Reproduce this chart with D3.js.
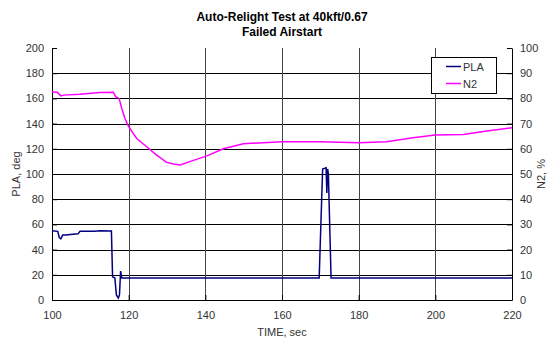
<!DOCTYPE html>
<html>
<head>
<meta charset="utf-8">
<script src="https://cdn.jsdelivr.net/npm/d3@7"></script>
<style>
  body { margin: 0; background: #fff; }
  svg text { font-family: "Liberation Sans", Arial, sans-serif; }
</style>
</head>
<body>
<div id="chart"></div>
<script>
'use strict'

// Values.
let xTicks = [100, 120, 140, 160, 180, 200, 220];
let plaTicks = [0, 20, 40, 60, 80, 100, 120, 140, 160, 180, 200];
let n2Ticks = [0, 10, 20, 30, 40, 50, 60, 70, 80, 90, 100];

let plaTime = [100, 101.5, 101.9, 102.3, 102.8, 103.5, 106.8, 107.3, 111, 112.5, 115.5,
    115.8, 116.4, 116.8, 117.3, 117.6, 117.9, 118.2, 130, 150, 169.7,
    170.6, 171.5, 171.7, 171.9, 172.1, 172.8, 190, 220];
let plaValue = [55, 54.5, 49.5, 48.5, 51.5, 51.5, 52.5, 54.5, 54.5, 55, 54.8,
    18.5, 17.5, 4, 1.5, 4, 23, 17.5, 17.5, 17.5, 17.5,
    104, 105, 85, 104, 100, 17.5, 17.5, 17.5];

let n2Time = [100, 101.4, 102.3, 103, 107.3, 112.5, 116, 116.6, 117.5, 118.2, 119,
    120, 122.1, 124.7, 127.3, 129.9, 131.7, 133.4, 136.9, 140.4, 144.7,
    149.9, 160, 170, 180, 187.2, 194.2, 200, 207.3, 213.4, 220];
let n2Value = [82.5, 82.4, 81, 81.3, 81.6, 82.3, 82.4, 80.7, 80, 76, 72.1,
    68.8, 64.1, 60.8, 57.5, 54.6, 54, 53.6, 55.4, 57.2, 60,
    62, 62.8, 62.8, 62.4, 62.8, 64.4, 65.5, 65.7, 67.1, 68.4];

let margin = {top: 48, right: 40, bottom: 39, left: 52},
    width = 552 - margin.left - margin.right,
    height = 339 - margin.top - margin.bottom;

let svg = d3.select('#chart')
    .append('svg')
        .attr('width', 552)
        .attr('height', 339)
    .append('g')
        .attr('transform', `translate(${margin.left}, ${margin.top})`);

let x = d3.scaleLinear().domain([100, 220]).range([0, width]);
let yPla = d3.scaleLinear().domain([0, 200]).range([height, 0]);
let yN2 = d3.scaleLinear().domain([0, 100]).range([height, 0]);

// Grid lines.
svg.append('g')
    .selectAll('line')
    .data(plaTicks.filter(d => d > 0 && d < 200))
    .join('line')
        .attr('x1', 0).attr('x2', width)
        .attr('y1', d => Math.round(yPla(d)) + 0.5)
        .attr('y2', d => Math.round(yPla(d)) + 0.5)
        .attr('stroke', '#000');

svg.append('g')
    .selectAll('line')
    .data(xTicks.filter(d => d > 100 && d < 220))
    .join('line')
        .attr('x1', d => Math.round(x(d)) + 0.5)
        .attr('x2', d => Math.round(x(d)) + 0.5)
        .attr('y1', 0).attr('y2', height)
        .attr('stroke', '#444');

// Axes.
let styleAxis = g => {
    g.select('.domain').attr('stroke', '#000');
    g.selectAll('.tick line').attr('stroke', '#000');
    g.selectAll('.tick text').attr('fill', '#333').style('font-size', '11px');
};

svg.append('g')
    .attr('transform', `translate(0, ${height})`)
    .call(d3.axisBottom(x).tickValues(xTicks).tickSizeInner(-5).tickSizeOuter(0).tickPadding(11))
    .call(styleAxis);

svg.append('g')
    .call(d3.axisLeft(yPla).tickValues(plaTicks).tickSizeInner(-5).tickSizeOuter(0).tickPadding(8))
    .call(styleAxis);

svg.append('g')
    .attr('transform', `translate(${width}, 0)`)
    .call(d3.axisRight(yN2).tickValues(n2Ticks).tickSizeInner(-5).tickSizeOuter(0).tickPadding(8))
    .call(styleAxis);

// Series.
let plaData = plaTime.map((t, i) => ({t: t, v: plaValue[i]}));
let n2Data = n2Time.map((t, i) => ({t: t, v: n2Value[i]}));

svg.append('path')
    .datum(n2Data)
    .attr('fill', 'none')
    .attr('stroke', '#ff00ff')
    .attr('stroke-width', 1.5)
    .attr('d', d3.line().x(d => x(d.t)).y(d => yN2(d.v)));

svg.append('path')
    .datum(plaData)
    .attr('fill', 'none')
    .attr('stroke', '#000080')
    .attr('stroke-width', 1.5)
    .attr('d', d3.line().x(d => x(d.t)).y(d => yPla(d.v)));

// Titles and axis labels.
let title = svg.append('text')
    .attr('text-anchor', 'middle')
    .attr('x', width / 2)
    .style('font-size', '12px')
    .style('font-weight', 'bold');
title.append('tspan').attr('x', width / 2).attr('y', -27).text('Auto-Relight Test at 40kft/0.67');
title.append('tspan').attr('x', width / 2).attr('y', -12).text('Failed Airstart');

svg.append('text')
    .attr('text-anchor', 'middle')
    .attr('x', width / 2)
    .attr('y', height + 36)
    .attr('fill', '#333')
    .style('font-size', '11px')
    .text('TIME, sec');

svg.append('text')
    .attr('text-anchor', 'middle')
    .attr('transform', `translate(-32, ${height / 2}) rotate(-90)`)
    .attr('fill', '#333')
    .style('font-size', '11px')
    .text('PLA, deg');

svg.append('text')
    .attr('text-anchor', 'middle')
    .attr('transform', `translate(${width + 33}, ${height / 2}) rotate(-90)`)
    .attr('fill', '#333')
    .style('font-size', '11px')
    .text('N2, %');

// Legend.
let legend = svg.append('g').attr('transform', `translate(${width - 81}, 9)`);
legend.append('rect')
    .attr('x', 0.5).attr('y', 0.5)
    .attr('width', 65).attr('height', 36)
    .attr('fill', '#fff')
    .attr('stroke', '#000');

let legendItems = [
    {name: 'PLA', color: '#000080'},
    {name: 'N2', color: '#ff00ff'}
];

legendItems.forEach((d, i) => {
    let yPos = 9.5 + i * 17;
    legend.append('line')
        .attr('x1', 15).attr('x2', 30)
        .attr('y1', yPos).attr('y2', yPos)
        .attr('stroke', d.color)
        .attr('stroke-width', 1.5);
    legend.append('text')
        .attr('x', 32).attr('y', yPos + 4)
        .attr('fill', '#333')
        .style('font-size', '11px')
        .text(d.name);
});
</script>
</body>
</html>
